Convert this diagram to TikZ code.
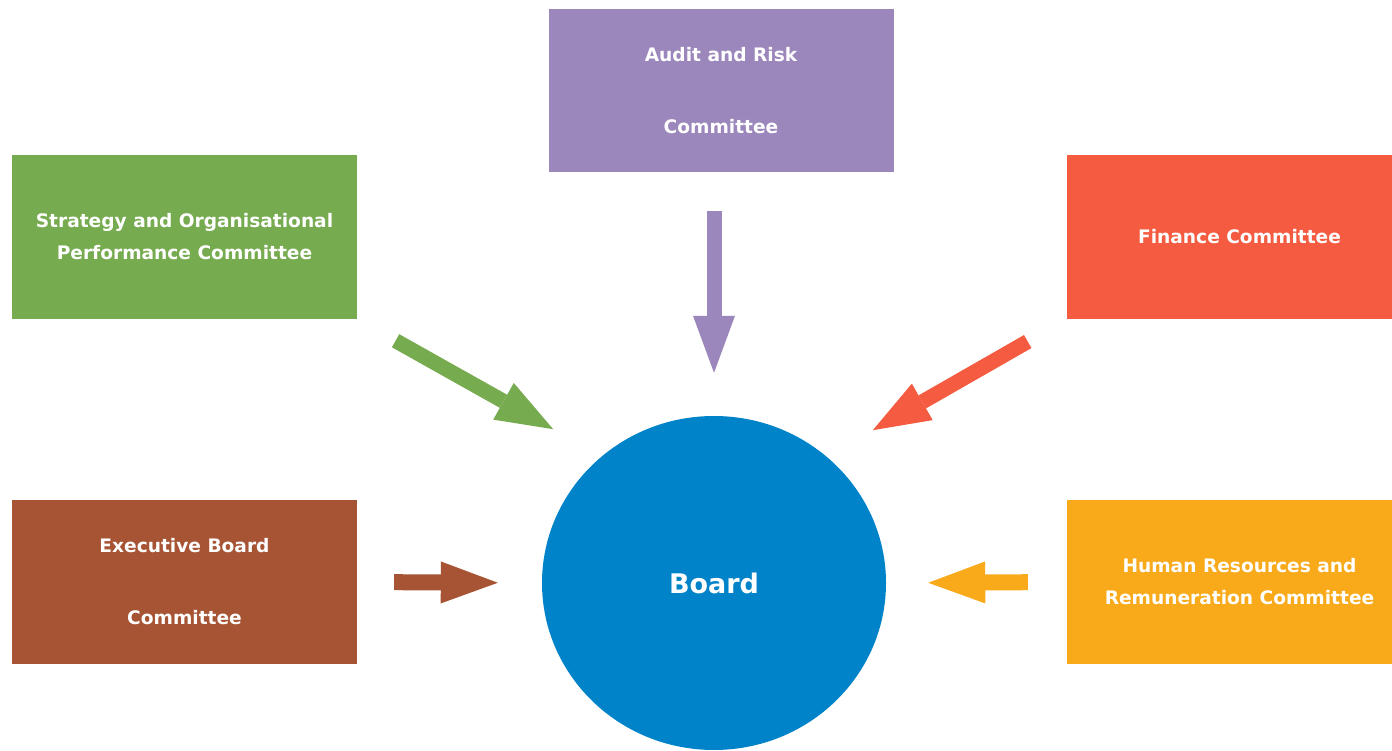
\documentclass[tikz,border=0pt]{standalone}
\usepackage{fontspec}
\setmainfont{DejaVu Sans}
\usetikzlibrary{shapes.geometric, arrows.meta, positioning, calc}

\definecolor{sopgreen}{RGB}{119,171,80}
\definecolor{auditpurple}{RGB}{155,135,188}
\definecolor{financered}{RGB}{245,91,64}
\definecolor{execbrown}{RGB}{166,84,52}
\definecolor{hrorange}{RGB}{249,170,27}
\definecolor{boardblue}{RGB}{0,131,200}

\begin{document}
\begin{tikzpicture}[x=1pt, y=-1pt,
		% --- ESTILOS ---
		committee/.style = {rectangle, minimum width=345pt, minimum height=164pt, inner sep=0pt, align=center, text=white, font=\bfseries\fontsize{18.6}{32}\selectfont},
		board_node/.style = {ellipse, fill=boardblue, minimum width=344pt, minimum height=334pt, inner sep=0pt, text=white, font=\bfseries\fontsize{27}{36}\selectfont},
		fat_arrow/.style = {line width=15pt, -{Triangle[length=57pt, width=42pt, line width=0pt]}}
		]
		
		\useasboundingbox (0,0) rectangle (1392,751);
		
		% --- COMITES ---
		\node [committee, fill=sopgreen] (strategy) at (184.5,237) {Strategy and Organisational\\Performance Committee};
		\node [committee, fill=auditpurple, minimum height=163pt] (audit) at (721,90.5) {Audit and Risk\\[40pt]Committee};
		\node [committee, fill=financered] (finance) at (1239.5,237) {Finance Committee};
		\node [committee, fill=execbrown] (executive) at (184.5,582) {Executive Board\\[40pt]Committee};
		\node [committee, fill=hrorange] (hr) at (1239.5,582) {Human Resources and\\Remuneration Committee};
		
		% --- CONSEJO ---
		\node [board_node] (board) at (714,583) {Board};
		
		% --- FLECHAS HACIA EL CONSEJO ---
		\draw [fat_arrow, sopgreen, shorten <=44pt] (strategy.south east) -- ++(196,110);
		\draw [fat_arrow, auditpurple, shorten <=39pt, shorten >=43pt] (audit.south -| board.north) -- (board.north);
		\draw [fat_arrow, financered, shorten <=45pt] (finance.south west) -- ++(-194,111);
		
		% Flechas horizontales
		\draw [fat_arrow, execbrown, line width=16pt, shorten <=37pt, shorten >=44pt] (executive.east) -- (board.west);
		\draw [fat_arrow, hrorange, line width=16pt, shorten <=39pt, shorten >=42pt] (hr.west) -- (board.east);
		
	\end{tikzpicture}
\end{document}
